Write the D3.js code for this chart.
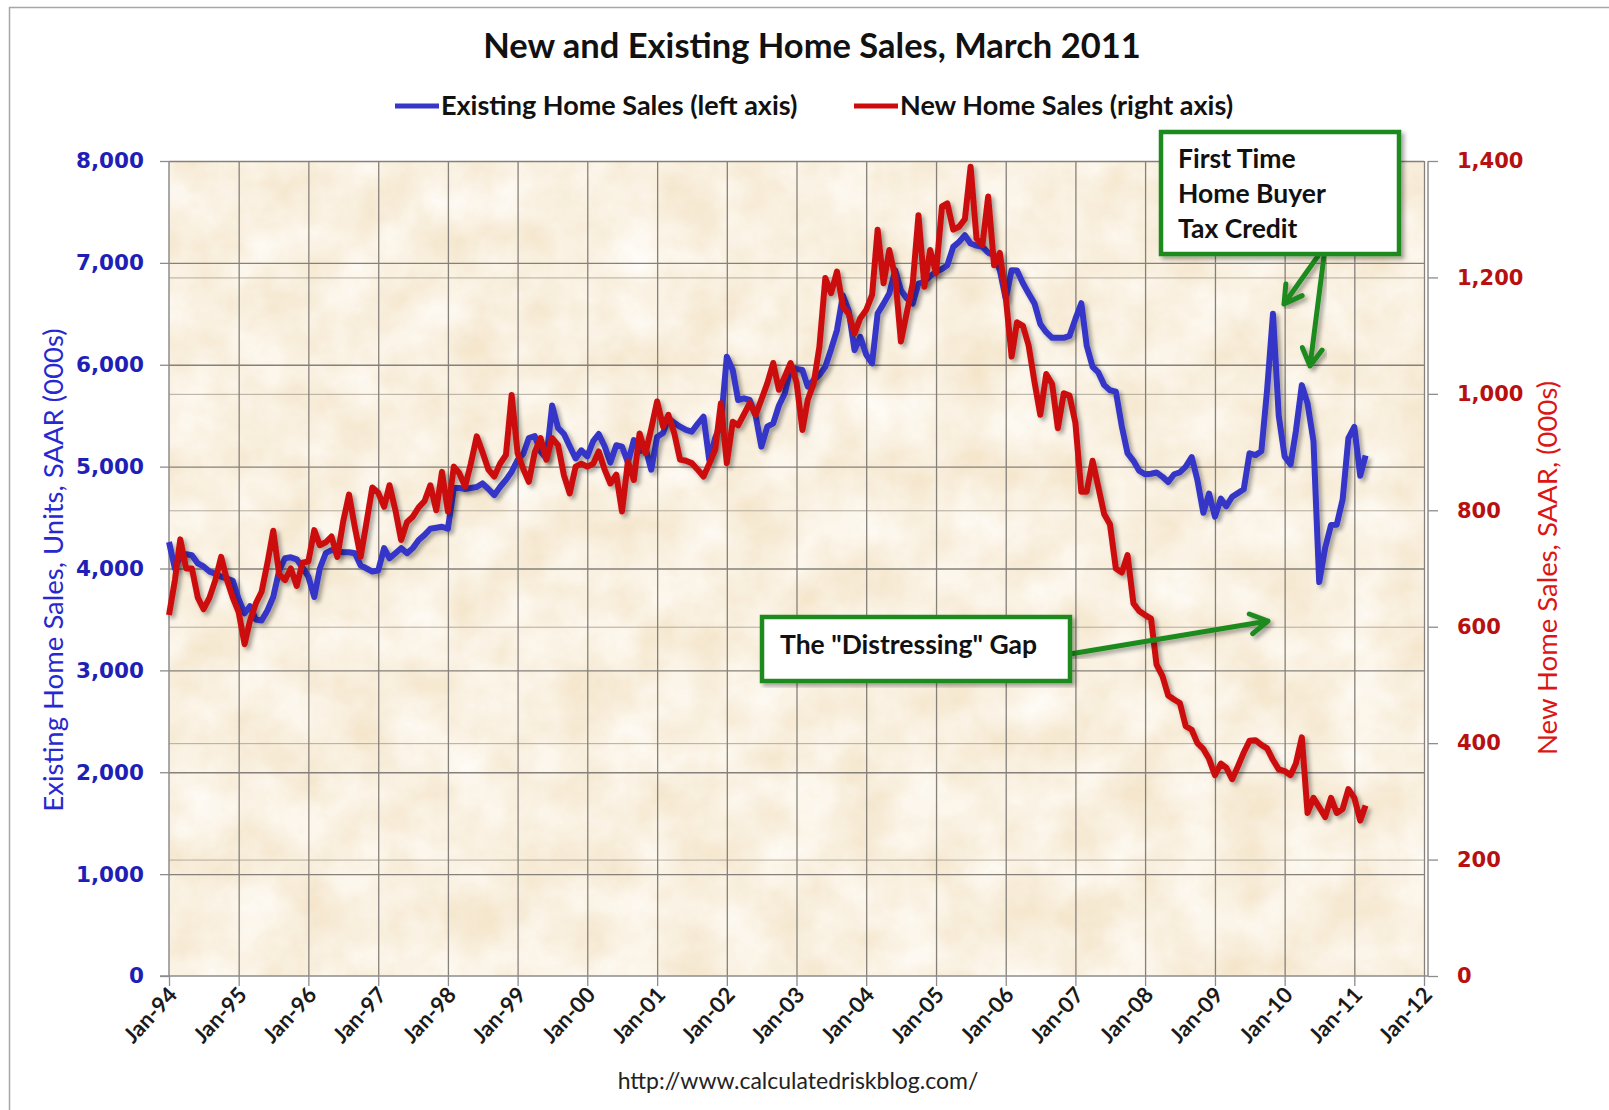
<!DOCTYPE html>
<html>
<head>
<meta charset="utf-8">
<script src="https://cdn.jsdelivr.net/npm/d3@7"></script>
<style>
  body { margin: 0; background: #fff; }
  svg { display: block; }
</style>
</head>
<body>
<div id="chart"></div>
<script>
// existing home sales, thousands SAAR, monthly Jan-1994 .. Mar-2011 (left axis)
const existingSales = [
  4260, 4000, 4120, 4140, 4130, 4050, 4020, 3970, 3950, 3920, 3900, 3880,
  3700, 3560, 3630, 3500, 3490, 3590, 3720, 3980, 4100, 4110, 4090, 4010,
  3920, 3720, 4000, 4150, 4180, 4170, 4160, 4160, 4150, 4030, 4000, 3970,
  3980, 4200, 4100, 4150, 4200, 4150, 4200, 4280, 4330, 4390, 4400, 4410,
  4390, 4790, 4790, 4780, 4790, 4800, 4835, 4780, 4720, 4800, 4870, 4950,
  5065, 5130, 5280, 5300, 5150, 5080, 5600, 5380, 5320, 5200, 5080, 5160,
  5100, 5250, 5320, 5200, 5040, 5210, 5196, 5040, 5260, 5150, 5180, 4970,
  5290, 5330, 5474, 5430, 5392, 5360, 5343, 5420, 5490, 5065, 5280, 5425,
  6079, 5948, 5654, 5670, 5654, 5500, 5196, 5392, 5425, 5600, 5720, 5965,
  5960, 5948, 5785, 5850, 5900, 5981, 6150, 6340, 6680, 6535, 6143, 6274,
  6100, 6013, 6503, 6600, 6700, 6928, 6732, 6650, 6601, 6797, 6814, 6870,
  6912, 6940, 6977, 7157, 7206, 7271, 7190, 7170, 7157, 7100, 7075, 6928,
  6650, 6928, 6925, 6800, 6700, 6600, 6400, 6320, 6264, 6264, 6264, 6283,
  6450, 6604, 6189, 5980, 5925, 5800, 5750, 5736, 5396, 5132, 5057, 4960,
  4925, 4930, 4943, 4900, 4849, 4925, 4943, 5000, 5094, 4868, 4547, 4736,
  4509, 4686, 4611, 4704, 4740, 4778, 5131, 5113, 5150, 5750, 6500, 5500,
  5100, 5020, 5350, 5800, 5620, 5250, 3867, 4200, 4426, 4430, 4680, 5280,
  5390, 4910, 5110
];

// new home sales, thousands SAAR, same months (right axis)
const newSales = [
  620, 680, 750, 700, 700, 650, 630, 650, 680, 720, 680, 650,
  625, 570, 610, 640, 660, 710, 765, 690, 680, 700, 670, 710,
  712, 766, 740, 745, 755, 720, 780, 827, 770, 720, 780, 839,
  830, 806, 843, 800, 749, 780, 789, 805, 816, 843, 800, 866,
  798, 875, 864, 841, 880, 927, 900, 870, 858, 880, 895, 998,
  898, 870, 849, 900, 924, 887, 924, 912, 860, 829, 875, 880,
  875, 880, 901, 870, 846, 861, 798, 884, 852, 932, 898, 940,
  987, 944, 964, 932, 887, 885, 881, 870, 858, 880, 904, 984,
  881, 952, 946, 965, 984, 964, 990, 1018, 1053, 1007, 1030, 1053,
  1020, 938, 990, 1018, 1081, 1199, 1173, 1210, 1150, 1138, 1104, 1130,
  1144, 1170, 1282, 1190, 1247, 1201, 1090, 1140, 1190, 1307, 1184, 1247,
  1207, 1322, 1327, 1282, 1287, 1300, 1390, 1267, 1256, 1339, 1221, 1242,
  1167, 1064, 1123, 1117, 1083, 1020, 964, 1034, 1017, 941, 1001, 997,
  950, 832, 832, 885, 840, 793, 776, 700, 693, 723, 640, 627,
  620, 614, 535, 515, 482, 475, 469, 429, 423, 400, 390, 373,
  345, 365, 358, 338, 360, 384, 404, 405, 397, 391, 371, 355,
  352, 345, 365, 410, 280, 306, 290, 273, 306, 280, 287, 321,
  306, 267, 293
];

const leftTicks = [0, 1000, 2000, 3000, 4000, 5000, 6000, 7000, 8000];
const rightTicks = [0, 200, 400, 600, 800, 1000, 1200, 1400];
const xTickLabels = ["Jan-94", "Jan-95", "Jan-96", "Jan-97", "Jan-98", "Jan-99", "Jan-00",
  "Jan-01", "Jan-02", "Jan-03", "Jan-04", "Jan-05", "Jan-06", "Jan-07", "Jan-08",
  "Jan-09", "Jan-10", "Jan-11", "Jan-12"];
const legendNames = ["Existing Home Sales (left axis)", "New Home Sales (right axis)"];
const taxCreditLines = ["First Time", "Home Buyer", "Tax Credit"];
const gapLabel = "The \"Distressing\" Gap";

const W = 1609, H = 1110;
const plot = {left: 169, right: 1424, top: 161, bottom: 976};
const blue = "#3636c8", red = "#cc0c0c", green = "#1f8a1f";
const calibri = "Lato, 'Open Sans', sans-serif";
const verdana = "'DejaVu Sans', Verdana, sans-serif";

const svg = d3.select("#chart").append("svg")
    .attr("width", W)
    .attr("height", H);

const defs = svg.append("defs");

// parchment look for the plot area, kept soft
const paper = defs.append("filter").attr("id", "paper")
    .attr("x", 0).attr("y", 0).attr("width", "100%").attr("height", "100%");
paper.append("feTurbulence")
    .attr("type", "fractalNoise")
    .attr("baseFrequency", "0.018")
    .attr("numOctaves", 5)
    .attr("seed", 11)
    .attr("result", "noise");
paper.append("feColorMatrix")
    .attr("in", "noise")
    .attr("type", "matrix")
    .attr("values", "0 0 0 0 1  0 0 0 0 0.99  0 0 0 0 0.965  1.1 0 0 0 -0.08");

const shadow = defs.append("filter").attr("id", "shadow")
    .attr("x", "-10%").attr("y", "-10%").attr("width", "120%").attr("height", "120%");
shadow.append("feDropShadow")
    .attr("dx", 3).attr("dy", 3)
    .attr("stdDeviation", 2)
    .attr("flood-color", "#000")
    .attr("flood-opacity", 0.35);

// outer frame
svg.append("rect")
    .attr("x", 9.5).attr("y", 7.5)
    .attr("width", W + 20).attr("height", H + 20)
    .attr("fill", "none")
    .attr("stroke", "#a6a6a6")
    .attr("stroke-width", 1.5);

const months = d3.timeMonth.range(new Date(1994, 0, 1), new Date(1994, existingSales.length, 1));
const parseTick = d3.timeParse("%b-%y");
const tickDates = xTickLabels.map(parseTick);

const x = d3.scaleTime()
    .domain([tickDates[0], tickDates[tickDates.length - 1]])
    .range([plot.left, plot.right]);
const yL = d3.scaleLinear().domain([0, 8000]).range([plot.bottom, plot.top]);
const yR = d3.scaleLinear().domain([0, 1400]).range([plot.bottom, plot.top]);

// plot background
svg.append("rect")
    .attr("x", plot.left).attr("y", plot.top)
    .attr("width", plot.right - plot.left)
    .attr("height", plot.bottom - plot.top)
    .attr("fill", "#f4e4c8");
svg.append("rect")
    .attr("x", plot.left).attr("y", plot.top)
    .attr("width", plot.right - plot.left)
    .attr("height", plot.bottom - plot.top)
    .attr("filter", "url(#paper)");

// gridlines
const grid = svg.append("g");
grid.selectAll(".gr")
    .data(rightTicks.slice(1))
    .enter().append("line")
    .attr("x1", plot.left).attr("x2", plot.right)
    .attr("y1", d => yR(d) + 0.5).attr("y2", d => yR(d) + 0.5)
    .attr("stroke", "#b3aa9c")
    .attr("stroke-width", 1);
grid.selectAll(".gl")
    .data(leftTicks.slice(1))
    .enter().append("line")
    .attr("x1", plot.left).attr("x2", plot.right)
    .attr("y1", d => yL(d) + 0.5).attr("y2", d => yL(d) + 0.5)
    .attr("stroke", "#85807a")
    .attr("stroke-width", 1.3);
grid.selectAll(".gv")
    .data(tickDates.slice(1))
    .enter().append("line")
    .attr("x1", d => x(d) + 0.5).attr("x2", d => x(d) + 0.5)
    .attr("y1", plot.top).attr("y2", plot.bottom)
    .attr("stroke", "#85807a")
    .attr("stroke-width", 1.3);

// axes
const leftAxis = svg.append("g")
    .attr("transform", "translate(" + plot.left + ",0)")
    .call(d3.axisLeft(yL).tickValues(leftTicks).tickSize(9).tickFormat(d3.format(",")));
const rightAxis = svg.append("g")
    .attr("transform", "translate(" + (plot.right + 4) + ",0)")
    .call(d3.axisRight(yR).tickValues(rightTicks).tickSize(10).tickFormat(d3.format(",")));
const bottomAxis = svg.append("g")
    .attr("transform", "translate(0," + plot.bottom + ")")
    .call(d3.axisBottom(x).tickValues(tickDates).tickSize(10).tickFormat((d, i) => xTickLabels[i]));

[leftAxis, rightAxis, bottomAxis].forEach(a => {
    a.select(".domain").attr("stroke", "#8c8c8c").attr("stroke-width", 1.5);
    a.selectAll(".tick line").attr("stroke", "#8c8c8c").attr("stroke-width", 1.3);
});
leftAxis.select(".domain").attr("d", "M0," + plot.top + "V" + plot.bottom);
rightAxis.select(".domain").attr("d", "M0," + plot.top + "V" + plot.bottom);
bottomAxis.select(".domain").attr("d", "M" + (plot.left - 9) + ",0H" + (plot.right + 4));

leftAxis.selectAll(".tick text")
    .attr("x", -25)
    .attr("fill", "#1f1fb8")
    .style("font-family", verdana)
    .style("font-weight", "bold")
    .style("font-size", "21.5px");
rightAxis.selectAll(".tick text")
    .attr("x", 29)
    .attr("fill", "#b81010")
    .style("font-family", verdana)
    .style("font-weight", "bold")
    .style("font-size", "21px");
bottomAxis.selectAll(".tick text")
    .attr("y", 0).attr("dy", 0)
    .attr("text-anchor", "end")
    .attr("transform", "translate(9,20) rotate(-47)")
    .attr("fill", "#1a1a1a")
    .style("font-family", calibri)
    .style("font-weight", "bold")
    .style("font-size", "22px");

// series
const lineL = d3.line().x((d, i) => x(months[i])).y(d => yL(d));
const lineR = d3.line().x((d, i) => x(months[i])).y(d => yR(d));

svg.append("path")
    .datum(existingSales)
    .attr("d", lineL)
    .attr("fill", "none")
    .attr("stroke", blue)
    .attr("stroke-width", 6)
    .attr("stroke-linejoin", "round")
    .attr("filter", "url(#shadow)");
svg.append("path")
    .datum(newSales)
    .attr("d", lineR)
    .attr("fill", "none")
    .attr("stroke", red)
    .attr("stroke-width", 6)
    .attr("stroke-linejoin", "round")
    .attr("filter", "url(#shadow)");

// title and legend
svg.append("text")
    .attr("x", 812).attr("y", 58)
    .attr("text-anchor", "middle")
    .attr("fill", "#111")
    .style("font-family", calibri)
    .style("font-weight", "bold")
    .style("font-size", "34.5px")
    .text("New and Existing Home Sales, March 2011");

const legendX = [395, 854];
legendNames.forEach((name, i) => {
    svg.append("line")
        .attr("x1", legendX[i]).attr("x2", legendX[i] + 44)
        .attr("y1", 106).attr("y2", 106)
        .attr("stroke", i === 0 ? blue : red)
        .attr("stroke-width", 5);
    svg.append("text")
        .attr("x", legendX[i] + 46).attr("y", 115)
        .attr("fill", "#111")
        .style("font-family", calibri)
        .style("font-weight", "bold")
        .style("font-size", "27px")
        .text(name);
});

// axis titles
svg.append("text")
    .attr("transform", "translate(63,570) rotate(-90)")
    .attr("text-anchor", "middle")
    .attr("fill", "#2828d0")
    .style("font-family", calibri)
    .style("font-size", "27.5px")
    .text("Existing Home Sales, Units, SAAR (000s)");
svg.append("text")
    .attr("transform", "translate(1557,568) rotate(-90)")
    .attr("text-anchor", "middle")
    .attr("fill", "#dd1515")
    .style("font-family", calibri)
    .style("font-size", "27.5px")
    .text("New Home Sales, SAAR, (000s)");

svg.append("text")
    .attr("x", 798).attr("y", 1089)
    .attr("text-anchor", "middle")
    .attr("fill", "#222")
    .style("font-family", calibri)
    .style("font-size", "23px")
    .text("http://www.calculatedriskblog.com/");

// annotations
function arrow(x1, y1, x2, y2) {
    const a = Math.atan2(y2 - y1, x2 - x1);
    const len = 20, spread = Math.PI / 6;
    const g = svg.append("g").attr("filter", "url(#shadow)");
    const p = d3.path();
    p.moveTo(x1, y1); p.lineTo(x2, y2);
    p.moveTo(x2 - len * Math.cos(a - spread), y2 - len * Math.sin(a - spread));
    p.lineTo(x2, y2);
    p.lineTo(x2 - len * Math.cos(a + spread), y2 - len * Math.sin(a + spread));
    g.append("path")
        .attr("d", p.toString())
        .attr("fill", "none")
        .attr("stroke", green)
        .attr("stroke-width", 5)
        .attr("stroke-linecap", "round")
        .attr("stroke-linejoin", "round");
}

function box(x0, y0, w, h, lines, tx, ty, dy) {
    svg.append("rect")
        .attr("x", x0).attr("y", y0)
        .attr("width", w).attr("height", h)
        .attr("fill", "#fff")
        .attr("stroke", green)
        .attr("stroke-width", 4.5)
        .attr("filter", "url(#shadow)");
    lines.forEach((t, i) => {
        svg.append("text")
            .attr("x", tx).attr("y", ty + i * dy)
            .attr("fill", "#111")
            .style("font-family", calibri)
            .style("font-weight", "bold")
            .style("font-size", "26.5px")
            .text(t);
    });
}

arrow(1318, 256, 1284, 304);
arrow(1324, 256, 1310, 366);
box(1161, 132, 238, 122, taxCreditLines, 1178, 168, 35);

arrow(1070, 654, 1268, 621);
box(762, 617, 308, 64, [gapLabel], 780, 654, 0);
</script>
</body>
</html>
